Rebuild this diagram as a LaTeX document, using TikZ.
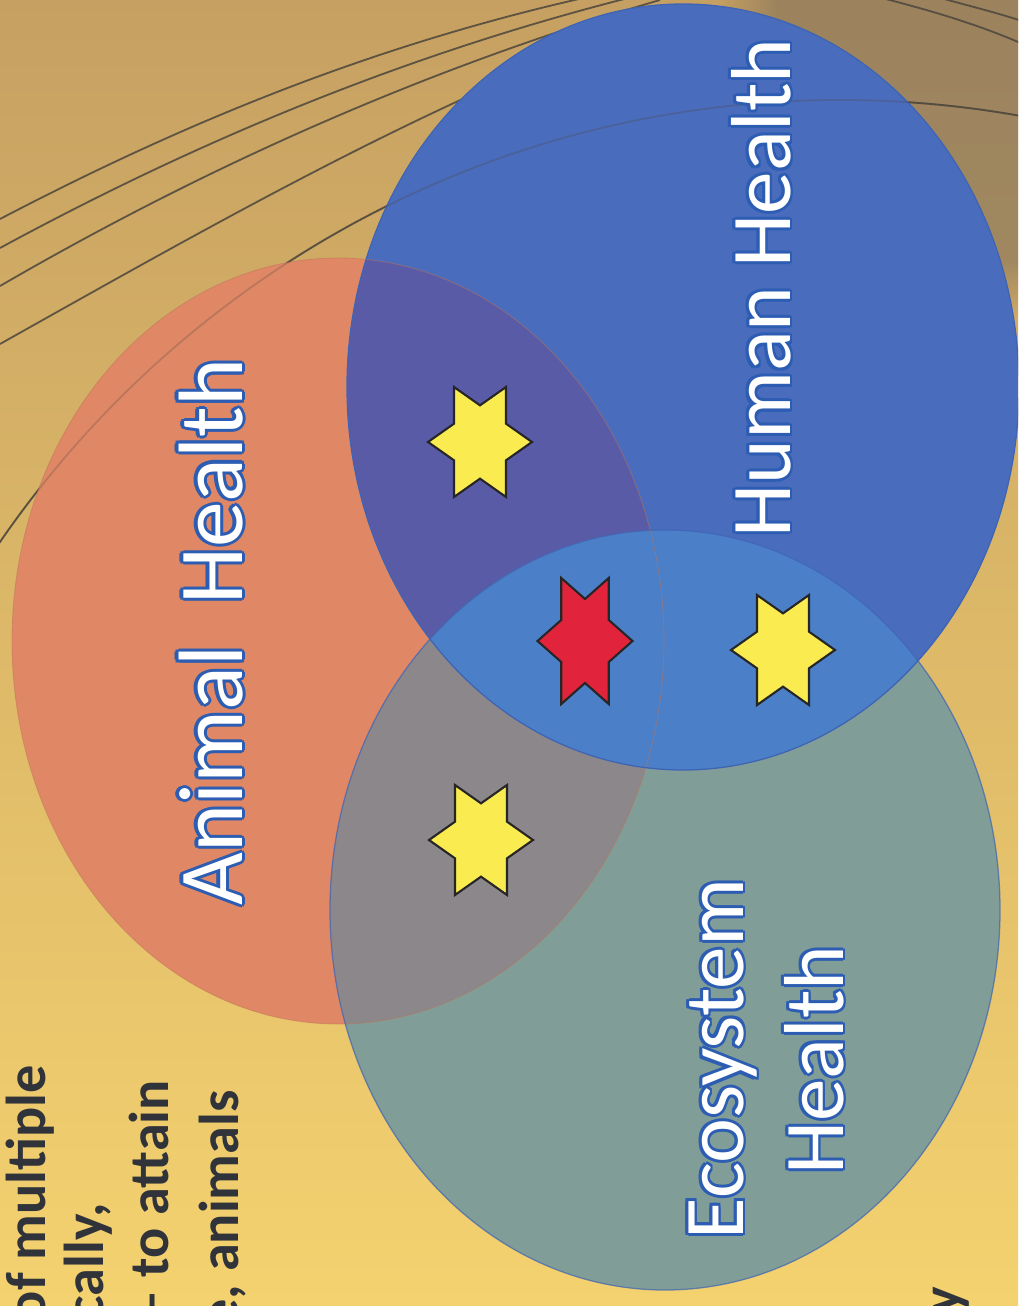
\documentclass[tikz,border=0pt]{standalone}
\usepackage{fontspec}
\setmainfont{Carlito}
\usetikzlibrary{fadings}
\definecolor{bgtop}{HTML}{C6A062}
\definecolor{bgbot}{HTML}{F4D26F}
\definecolor{bgdark}{HTML}{7A6C5C}
\definecolor{animalc}{HTML}{E08866}
\definecolor{humanc}{HTML}{4A6CBC}
\definecolor{ecoc}{HTML}{809D98}
\definecolor{ahc}{HTML}{5A5BA6}
\definecolor{aec}{HTML}{8C878B}
\definecolor{hec}{HTML}{4B7FC8}
\definecolor{edgec}{HTML}{3F64B4}
\definecolor{txtedge}{HTML}{2C5DB2}
\definecolor{bodyc}{HTML}{30343A}
\definecolor{linec}{HTML}{4C463C}
\definecolor{starY}{HTML}{FAEB50}
\definecolor{starR}{HTML}{E1233C}
\newcommand\glowtxt[1]{%
 \leavevmode
 \rlap{\color{txtedge}\kern-.035em#1}%
 \rlap{\color{txtedge}\kern.035em#1}%
 \rlap{\color{txtedge}\raisebox{.035em}{#1}}%
 \rlap{\color{txtedge}\raisebox{-.035em}{#1}}%
 \rlap{\color{txtedge}\kern-.025em\raisebox{.025em}{#1}}%
 \rlap{\color{txtedge}\kern.025em\raisebox{.025em}{#1}}%
 \rlap{\color{txtedge}\kern-.025em\raisebox{-.025em}{#1}}%
 \rlap{\color{txtedge}\kern.025em\raisebox{-.025em}{#1}}%
 {\color{white}#1}}
\newcommand\hexstar[5]{%
 \begin{scope}[shift={(#1,#2)}, xscale=#3, yscale=#4]
  \filldraw[fill=#5, draw=black!85, line width=1.5pt, line join=miter]
   (1,0) -- (0.5,0.3333) -- (0.5,1) -- (0,0.6667) -- (-0.5,1) -- (-0.5,0.3333)
   -- (-1,0) -- (-0.5,-0.3333) -- (-0.5,-1) -- (0,-0.6667) -- (0.5,-1) -- (0.5,-0.3333) -- cycle;
 \end{scope}}
\tikzset{
 biglabel/.style={rotate=90, inner sep=0pt, anchor=base, font=\fontsize{60.5}{70}\selectfont},
 bodytext/.style={rotate=90, inner sep=0pt, anchor=base east, text=bodyc, font=\bfseries\fontsize{40}{48}\selectfont},
 bgline/.style={draw=linec, line width=1.3pt, opacity=0.85},
 elledge/.style={draw=edgec, line width=0.9pt}
}
\begin{document}
\begin{tikzpicture}[x=0.025cm, y=-0.025cm]
\useasboundingbox (0,0) rectangle (1018,1306);
\clip (0,0) rectangle (1018,1306);
% background
\shade[top color=bgtop, bottom color=bgbot] (0,0) rectangle (1018,1306);
\fill[bgdark, opacity=0.55, path fading=circle with fuzzy edge 20 percent] (1018,20) circle (300);
% background arcs
\draw[bgline] (0,219) .. controls (180,125) and (380,40) .. (620,-10);
\draw[bgline] (0,248) .. controls (190,145) and (400,55) .. (640,-5);
\draw[bgline] (0,286) .. controls (200,170) and (420,70) .. (660,0);
\draw[bgline] (0,344) .. controls (230,215) and (440,95) .. (680,10);
\draw[bgline] (840,1119) circle (1019);
\draw[bgline] (870,-5) .. controls (930,10) and (980,25) .. (1025,45);
\draw[bgline] (930,-5) .. controls (965,5) and (995,12) .. (1025,22);
% circles
\coordinate (cA) at (338,641);
\coordinate (cH) at (683,387);
\coordinate (cE) at (665,910);
\fill[animalc] (cA) ellipse [x radius=326, y radius=383];
\fill[ecoc] (cE) ellipse [x radius=335, y radius=380];
\fill[humanc] (cH) ellipse [x radius=336, y radius=383];
\begin{scope}
 \clip (cA) ellipse [x radius=326, y radius=383];
 \fill[ahc] (cH) ellipse [x radius=336, y radius=383];
 \fill[aec] (cE) ellipse [x radius=335, y radius=380];
\end{scope}
\begin{scope}
 \clip (cH) ellipse [x radius=336, y radius=383];
 \fill[hec] (cE) ellipse [x radius=335, y radius=380];
\end{scope}
\draw[draw=animalc!85!black, line width=0.6pt, opacity=0.5] (cA) ellipse [x radius=326, y radius=383];
\draw[elledge, opacity=0.7] (cE) ellipse [x radius=335, y radius=380];
\draw[elledge] (cH) ellipse [x radius=336, y radius=383];
\draw[bgline, opacity=0.25] (840,1119) circle (1019);
% stars
\hexstar{480}{442}{52}{55}{starY}
\hexstar{585}{641}{47.5}{63}{starR}
\hexstar{783}{650}{52}{55}{starY}
\hexstar{481}{840}{52}{55}{starY}
% labels
\node[biglabel, font=\fontsize{65}{75}\selectfont] (lblAnimal) at (242,632) {\glowtxt{Animal~~Health}};
\node[biglabel] (lblHuman) at (790,288) {\glowtxt{Human Health}};
\node[biglabel] (lblEcoA) at (743,1059) {\glowtxt{Ecosystem}};
\node[biglabel] (lblEcoB) at (843,1060) {\glowtxt{Health}};
% cut-off body text
\node[bodytext] (body1) at (45,1065) {of multiple};
\node[bodytext] (body2) at (103,1203) {cally,};
\node[bodytext] (body3) at (168,1080) {– to attain};
\node[bodytext] (body4) at (238,1090) {e, animals};
\node[bodytext] (body5) at (960,1287) {y};
\end{tikzpicture}
\end{document}
